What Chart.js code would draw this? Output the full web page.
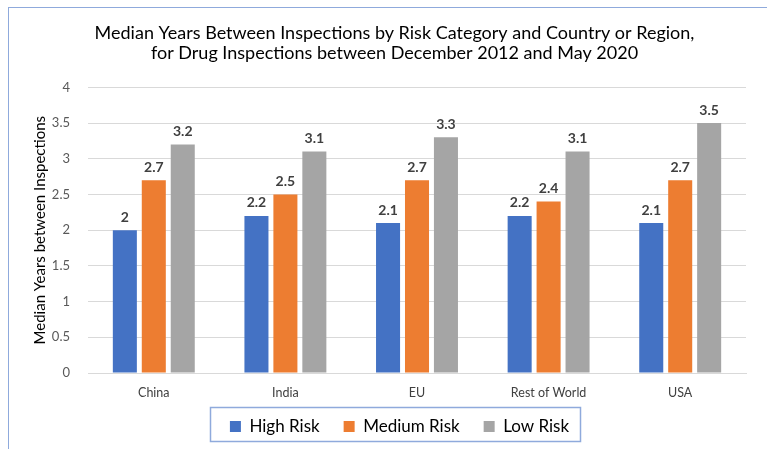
<!DOCTYPE html>
<html>
<head>
<meta charset="utf-8">
<script src="https://cdn.jsdelivr.net/npm/chart.js@4.4.0/dist/chart.umd.min.js"></script>
<style>
  html, body { margin: 0; padding: 0; background: #fff; }
  #frame {
    position: absolute; left: 8px; top: 7px;
    width: 759px; height: 442px;
    border-top: 1px solid #8faadc; border-left: 1px solid #8faadc;
  }
  canvas { display: block; }
</style>
</head>
<body>
<div id="frame"><canvas id="c" width="758" height="441"></canvas></div>
<script>
const categories = ['China', 'India', 'EU', 'Rest of World', 'USA'];
const highRisk = [2, 2.2, 2.1, 2.2, 2.1];
const mediumRisk = [2.7, 2.5, 2.7, 2.4, 2.7];
const lowRisk = [3.2, 3.1, 3.3, 3.1, 3.5];
const yTicks = [0, 0.5, 1, 1.5, 2, 2.5, 3, 3.5, 4];

const FONT = 'Lato, "Open Sans", sans-serif';

// value labels above bars
const barLabels = {
  id: 'barLabels',
  afterDatasetsDraw(chart) {
    const ctx = chart.ctx;
    ctx.save();
    ctx.font = 'bold 14px ' + FONT;
    ctx.fillStyle = '#404040';
    ctx.textAlign = 'center';
    ctx.textBaseline = 'bottom';
    chart.data.datasets.forEach((ds, i) => {
      chart.getDatasetMeta(i).data.forEach((bar, j) => {
        ctx.fillText(String(ds.data[j]), bar.x, bar.y - 6);
      });
    });
    ctx.restore();
  }
};

// nudge title and legend to sit like the original
const nudge = {
  id: 'nudge',
  afterLayout(chart) {
    const t = chart.titleBlock;
    t.left += 6; t.right += 6;
    const lg = chart.legend;
    const dx = 11, dy = -13;
    lg.left += dx; lg.right += dx; lg.top += dy; lg.bottom += dy;
  }
};

// box round the legend
const legendBox = {
  id: 'legendBox',
  afterDraw(chart) {
    const boxes = chart.legend.legendHitBoxes;
    if (!boxes || !boxes.length) return;
    let l = Infinity, r = -Infinity, t = Infinity, b = -Infinity;
    boxes.forEach(h => {
      l = Math.min(l, h.left); r = Math.max(r, h.left + h.width);
      t = Math.min(t, h.top); b = Math.max(b, h.top + h.height);
    });
    const ctx = chart.ctx;
    ctx.save();
    ctx.strokeStyle = '#8faadc';
    ctx.lineWidth = 1.5;
    ctx.strokeRect(Math.round(l - 20) + 0.5, Math.round(t - 11) + 0.5, Math.round(r - l + 31), Math.round(b - t + 17));
    ctx.restore();
  }
};

new Chart(document.getElementById('c'), {
  type: 'bar',
  data: {
    labels: categories,
    datasets: [
      { label: 'High Risk', data: highRisk, backgroundColor: '#4472c4' },
      { label: 'Medium Risk', data: mediumRisk, backgroundColor: '#ed7d31' },
      { label: 'Low Risk', data: lowRisk, backgroundColor: '#a5a5a5' }
    ]
  },
  options: {
    responsive: false,
    animation: false,
    datasets: { bar: { categoryPercentage: 0.66, barPercentage: 0.83 } },
    layout: { padding: { left: 22, right: 21, top: 10, bottom: -9 } },
    scales: {
      x: {
        afterFit(scale) { scale.height = 34; },
        grid: { display: false },
        border: { display: true, color: '#d9d9d9' },
        ticks: { color: '#404040', font: { family: FONT, size: 12.5 }, padding: 4 }
      },
      y: {
        min: 0, max: 4,
        afterBuildTicks(scale) { scale.ticks = yTicks.map(v => ({ value: v })); },
        afterFit(scale) { scale.width = 57; },
        grid: { color: '#d9d9d9', drawTicks: false },
        border: { display: false },
        ticks: { color: '#595959', font: { family: FONT, size: 13 }, padding: 18, callback: v => String(v) },
        title: { display: true, text: 'Median Years between Inspections', color: '#000', font: { family: FONT, size: 15 }, padding: 0 }
      }
    },
    plugins: {
      title: {
        display: true,
        text: ['Median Years Between Inspections by Risk Category and Country or Region,', 'for Drug Inspections between December 2012 and May 2020'],
        color: '#000',
        font: { family: FONT, size: 18, weight: 'normal', lineHeight: 1.12 },
        padding: { top: 5, bottom: 24 }
      },
      legend: {
        position: 'bottom',
        labels: { boxWidth: 11, boxHeight: 11, color: '#000', font: { family: FONT, size: 17 }, padding: 24 }
      },
      tooltip: { enabled: false }
    }
  },
  plugins: [barLabels, nudge, legendBox]
});
</script>
</body>
</html>
